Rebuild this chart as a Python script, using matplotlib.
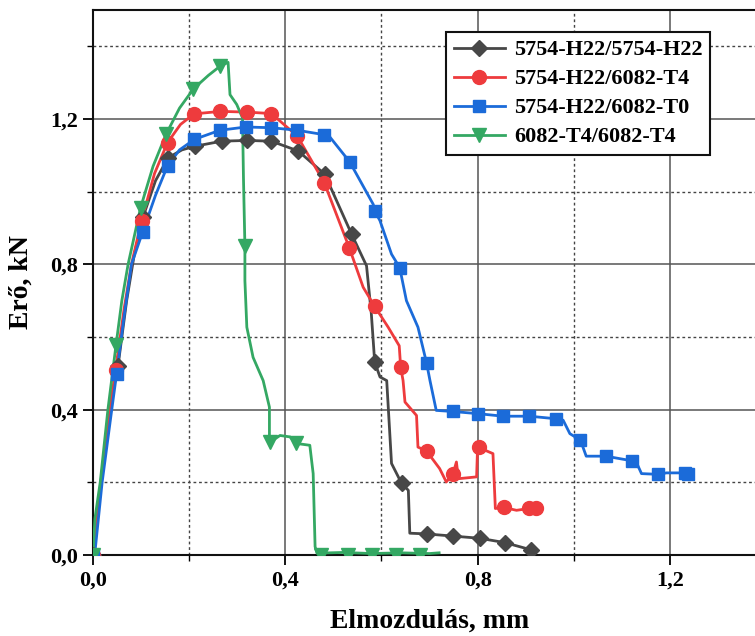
import matplotlib
matplotlib.use('Agg')
from matplotlib import pyplot as plt
from matplotlib.lines import Line2D
from matplotlib.ticker import MultipleLocator, FuncFormatter

plt.rcParams['font.family'] = ['Liberation Serif', 'DejaVu Serif']
plt.rcParams['font.weight'] = 'bold'

names = ['5754-H22/5754-H22', '5754-H22/6082-T4', '5754-H22/6082-T0', '6082-T4/6082-T4']
colors = ['#474747', '#ee3b3d', '#1b6bd9', '#34a863']
markers = ['D', 'o', 's', 'v']
msizes = [8, 10, 9, 10]

# erő-elmozdulás görbék (mm, kN)
h22_h22_x = [0.0, 0.012, 0.025, 0.040, 0.052, 0.070, 0.085, 0.104, 0.130, 0.156, 0.185, 0.212,
             0.268, 0.320, 0.371, 0.427, 0.482, 0.538, 0.569, 0.579, 0.586, 0.597, 0.611,
             0.621, 0.642, 0.656, 0.659, 0.694, 0.749, 0.805, 0.857, 0.912]
h22_h22_y = [0.0, 0.15, 0.30, 0.44, 0.52, 0.70, 0.82, 0.93, 1.03, 1.093, 1.115, 1.125,
             1.139, 1.141, 1.139, 1.112, 1.048, 0.883, 0.796, 0.664, 0.531, 0.490, 0.480,
             0.252, 0.197, 0.178, 0.060, 0.058, 0.052, 0.046, 0.034, 0.014]
h22_h22_mx = [0.0, 0.052, 0.104, 0.156, 0.212, 0.268, 0.320, 0.371, 0.427, 0.482, 0.538, 0.586,
              0.642, 0.694, 0.749, 0.805, 0.857, 0.912]
h22_h22_my = [0.0, 0.52, 0.93, 1.093, 1.125, 1.139, 1.141, 1.139, 1.112, 1.048, 0.883, 0.531,
              0.197, 0.058, 0.052, 0.046, 0.034, 0.014]

h22_t4_x = [0.0, 0.012, 0.025, 0.038, 0.047, 0.065, 0.080, 0.101, 0.128, 0.155, 0.182, 0.210,
            0.265, 0.320, 0.371, 0.425, 0.481, 0.533, 0.562, 0.586, 0.614, 0.637, 0.640,
            0.645, 0.649, 0.673, 0.676, 0.694, 0.721, 0.735, 0.749, 0.756, 0.760, 0.798,
            0.800, 0.802, 0.832, 0.837, 0.854, 0.881, 0.907, 0.922]
h22_t4_y = [0.0, 0.14, 0.29, 0.43, 0.51, 0.68, 0.80, 0.92, 1.05, 1.135, 1.185, 1.214,
            1.221, 1.219, 1.215, 1.153, 1.025, 0.846, 0.737, 0.684, 0.627, 0.576, 0.517,
            0.480, 0.421, 0.384, 0.297, 0.286, 0.238, 0.201, 0.224, 0.256, 0.210, 0.215,
            0.297, 0.296, 0.279, 0.128, 0.131, 0.123, 0.128, 0.128]
h22_t4_mx = [0.0, 0.047, 0.101, 0.155, 0.210, 0.265, 0.320, 0.371, 0.425, 0.481, 0.533, 0.586,
             0.640, 0.694, 0.749, 0.802, 0.854, 0.907, 0.922]
h22_t4_my = [0.0, 0.51, 0.92, 1.135, 1.214, 1.221, 1.219, 1.215, 1.153, 1.025, 0.846, 0.684,
             0.517, 0.286, 0.224, 0.296, 0.131, 0.128, 0.128]

h22_t0_x = [0.0, 0.005, 0.019, 0.039, 0.049, 0.065, 0.080, 0.103, 0.130, 0.155, 0.180, 0.211,
            0.264, 0.318, 0.371, 0.425, 0.480, 0.493, 0.534, 0.583, 0.586, 0.597, 0.621,
            0.638, 0.652, 0.676, 0.694, 0.701, 0.714, 0.748, 0.801, 0.853, 0.908, 0.963,
            0.978, 0.992, 1.014, 1.026, 1.067, 1.122, 1.130, 1.141, 1.175, 1.193, 1.231, 1.238]
h22_t0_y = [0.0, 0.02, 0.20, 0.40, 0.498, 0.66, 0.80, 0.888, 0.99, 1.071, 1.115, 1.144,
            1.169, 1.178, 1.176, 1.169, 1.157, 1.150, 1.082, 0.965, 0.947, 0.920, 0.828,
            0.791, 0.700, 0.627, 0.528, 0.480, 0.398, 0.395, 0.389, 0.382, 0.382, 0.375,
            0.371, 0.334, 0.316, 0.272, 0.272, 0.259, 0.256, 0.224, 0.222, 0.226, 0.226, 0.222]
h22_t0_mx = [0.0, 0.049, 0.103, 0.155, 0.211, 0.264, 0.318, 0.371, 0.425, 0.480, 0.534, 0.586,
             0.638, 0.694, 0.748, 0.801, 0.853, 0.908, 0.963, 1.014, 1.067, 1.122, 1.175,
             1.231, 1.238]
h22_t0_my = [0.0, 0.498, 0.888, 1.071, 1.144, 1.169, 1.178, 1.176, 1.169, 1.157, 1.082, 0.947,
             0.791, 0.528, 0.395, 0.389, 0.382, 0.382, 0.375, 0.316, 0.272, 0.259, 0.222,
             0.226, 0.222]

t4_t4_x = [0.0, 0.004, 0.015, 0.031, 0.048, 0.060, 0.073, 0.099, 0.125, 0.152, 0.180, 0.209,
           0.240, 0.264, 0.281, 0.285, 0.299, 0.311, 0.313, 0.316, 0.316, 0.320, 0.333,
           0.354, 0.367, 0.367, 0.369, 0.389, 0.410, 0.423, 0.451, 0.458, 0.462, 0.466,
           0.520, 0.580, 0.640, 0.700, 0.720]
t4_t4_y = [0.0, 0.10, 0.20, 0.40, 0.579, 0.70, 0.80, 0.956, 1.07, 1.158, 1.23, 1.283,
           1.320, 1.345, 1.356, 1.267, 1.240, 1.203, 1.038, 0.851, 0.755, 0.627, 0.544,
           0.480, 0.407, 0.325, 0.311, 0.329, 0.325, 0.307, 0.302, 0.224, 0.023, 0.005,
           0.007, 0.004, 0.006, 0.004, 0.006]
t4_t4_mx = [0.0, 0.048, 0.099, 0.152, 0.209, 0.264, 0.316, 0.369, 0.423, 0.475, 0.530,
            0.580, 0.630, 0.680]
t4_t4_my = [0.0, 0.579, 0.956, 1.158, 1.283, 1.345, 0.851, 0.311, 0.307, 0.0, 0.0,
            0.0, 0.0, 0.0]

lines = [(h22_h22_x, h22_h22_y, h22_h22_mx, h22_h22_my),
         (h22_t4_x, h22_t4_y, h22_t4_mx, h22_t4_my),
         (h22_t0_x, h22_t0_y, h22_t0_mx, h22_t0_my),
         (t4_t4_x, t4_t4_y, t4_t4_mx, t4_t4_my)]

fig = plt.figure(figsize=(7.55, 6.36), dpi=100)
ax = fig.add_axes([93 / 755, 81 / 636, 673 / 755, 545 / 636])

handles = []
for (lx, ly, mx, my), c, m, ms, nm in zip(lines, colors, markers, msizes, names):
    ax.plot(lx, ly, color=c, lw=2, zorder=3)
    ax.plot(mx, my, ls='none', marker=m, ms=ms, color=c, zorder=4)
    handles.append(Line2D([], [], color=c, lw=2, marker=m, ms=ms, label=nm))

ax.set_xlim(0, 1.4)
ax.set_ylim(0, 1.5)
ax.xaxis.set_major_locator(MultipleLocator(0.4))
ax.xaxis.set_minor_locator(MultipleLocator(0.2))
ax.yaxis.set_major_locator(MultipleLocator(0.4))
ax.yaxis.set_minor_locator(MultipleLocator(0.2))
comma = FuncFormatter(lambda v, p: ('%.1f' % v).replace('.', ','))
ax.xaxis.set_major_formatter(comma)
ax.yaxis.set_major_formatter(comma)

ax.grid(which='major', color='#555555', lw=1.1, ls='-')
ax.grid(which='minor', color='#444444', lw=1.0, ls=(0, (2, 2)))
ax.set_axisbelow(True)

ax.tick_params(which='major', direction='out', length=7, width=1.3, labelsize=16, pad=4)
ax.tick_params(which='minor', direction='out', length=4, width=1.0)
for s in ax.spines.values():
    s.set_linewidth(1.5)
    s.set_color('#111111')

ax.set_xlabel('Elmozdulás, mm', fontsize=20, fontweight='bold', labelpad=13)
ax.set_ylabel('Erő, kN', fontsize=20, fontweight='bold', labelpad=12)

leg = ax.legend(handles=handles, loc='upper left', bbox_to_anchor=(353 / 673, 1 - 22 / 545),
                fontsize=16, handlelength=2.3, handletextpad=0.4, borderpad=0.35,
                labelspacing=0.38, borderaxespad=0, fancybox=False, framealpha=1)
leg.get_frame().set_edgecolor('#111111')
leg.get_frame().set_linewidth(1.5)
leg.set_zorder(5)

fig.savefig('out.png', dpi=100)
